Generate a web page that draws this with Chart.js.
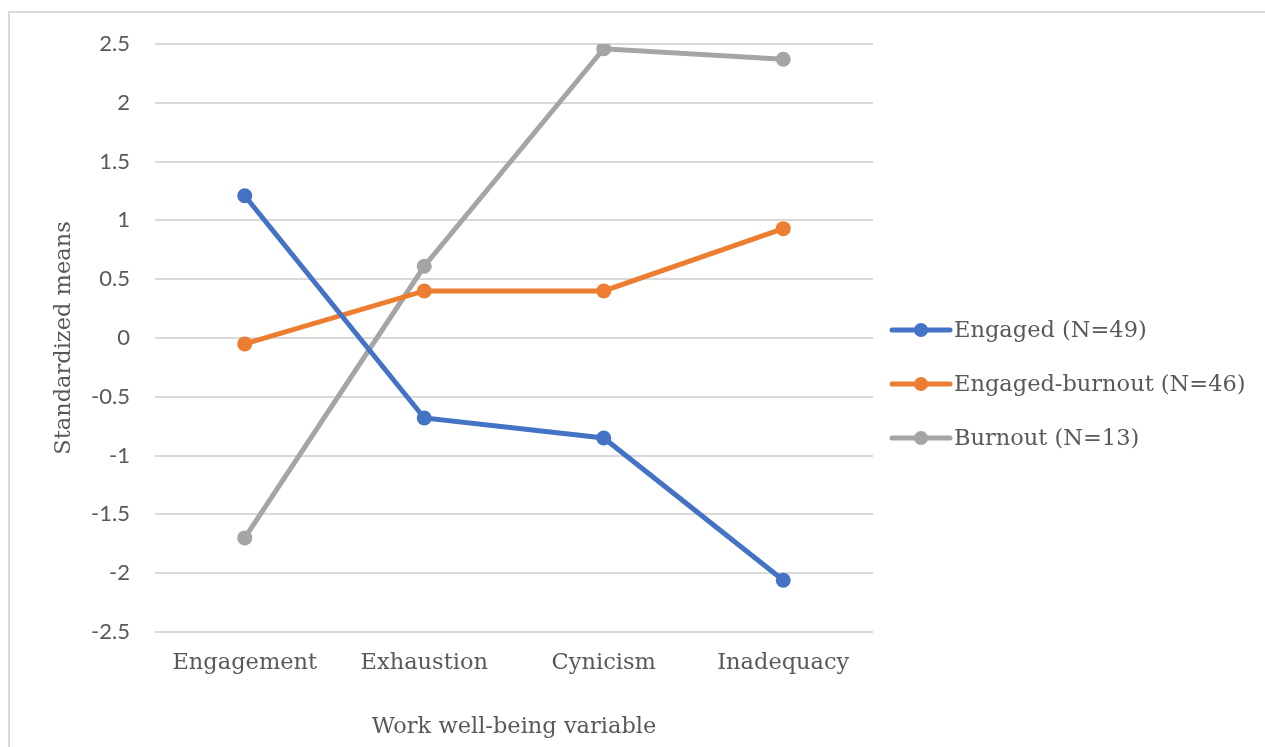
<!DOCTYPE html>
<html>
<head>
<meta charset="utf-8">
<script src="https://cdn.jsdelivr.net/npm/chart.js@4.4.0/dist/chart.umd.min.js"></script>
<style>
  html, body { margin: 0; padding: 0; background: #ffffff; }
  #wrap { width: 1265px; height: 747px; position: relative; }
</style>
</head>
<body>
<div id="wrap"><canvas id="chart" width="1265" height="747"></canvas></div>
<script>
// Work well-being profiles: standardized means per variable
const categories = ['Engagement', 'Exhaustion', 'Cynicism', 'Inadequacy'];
const engaged = [1.21, -0.68, -0.85, -2.06];
const engagedBurnout = [-0.05, 0.40, 0.40, 0.93];
const burnout = [-1.70, 0.61, 2.46, 2.37];
const seriesNames = ['Engaged (N=49)', 'Engaged-burnout (N=46)', 'Burnout (N=13)'];
const yTicks = [-2.5, -2, -1.5, -1, -0.5, 0, 0.5, 1, 1.5, 2, 2.5];

const SERIF = '"DejaVu Serif", "Liberation Serif", serif';
const SANS = 'Lato, "Open Sans", sans-serif';
const TEXT = '#595959';
const colors = ['#4472C4', '#ED7D31', '#A5A5A5'];
const SERIF_SIZE = 22.5;

// Outer frame of the chart
const framePlugin = {
  id: 'frame',
  beforeDraw(chart) {
    const ctx = chart.ctx;
    ctx.save();
    ctx.fillStyle = '#ffffff';
    ctx.fillRect(0, 0, chart.width, chart.height);
    ctx.strokeStyle = '#d9d9d9';
    ctx.lineWidth = 2;
    ctx.strokeRect(9, 12, chart.width + 20, chart.height + 20);
    ctx.restore();
  }
};

// Legend on the right: line with a marker, then the series name
const sideLegend = {
  id: 'sideLegend',
  afterDraw(chart) {
    const ctx = chart.ctx;
    const area = chart.chartArea;
    const x0 = area.right + 17;
    const yMid = (area.top + area.bottom) / 2;
    const gap = 54;
    ctx.save();
    chart.data.datasets.forEach((ds, i) => {
      const y = yMid - 8 + i * gap;
      ctx.strokeStyle = ds.borderColor;
      ctx.lineWidth = 5;
      ctx.lineCap = 'round';
      ctx.beginPath();
      ctx.moveTo(x0 + 2, y);
      ctx.lineTo(x0 + 60, y);
      ctx.stroke();
      ctx.fillStyle = ds.borderColor;
      ctx.beginPath();
      ctx.arc(x0 + 31, y, 7, 0, Math.PI * 2);
      ctx.fill();
      ctx.fillStyle = TEXT;
      ctx.font = SERIF_SIZE + 'px ' + SERIF;
      ctx.textBaseline = 'middle';
      ctx.textAlign = 'left';
      ctx.fillText(ds.label, x0 + 64, y + 1);
    });
    ctx.restore();
  }
};

const makeSet = (label, data, color) => ({
  label, data,
  borderColor: color,
  backgroundColor: color,
  borderWidth: 5,
  pointRadius: 7.5,
  pointHoverRadius: 7.5,
  pointBorderWidth: 0,
  tension: 0
});

new Chart(document.getElementById('chart'), {
  type: 'line',
  data: {
    labels: categories,
    datasets: [
      makeSet(seriesNames[0], engaged, colors[0]),
      makeSet(seriesNames[1], engagedBurnout, colors[1]),
      makeSet(seriesNames[2], burnout, colors[2])
    ]
  },
  options: {
    responsive: false,
    animation: false,
    events: [],
    layout: { padding: { left: 10, right: 392, top: 44, bottom: 0 } },
    plugins: {
      legend: { display: false },
      tooltip: { enabled: false }
    },
    scales: {
      x: {
        offset: true,
        grid: { display: false },
        border: { display: false },
        ticks: {
          color: TEXT,
          font: { family: SERIF, size: SERIF_SIZE },
          padding: 10
        },
        title: {
          display: true,
          text: 'Work well-being variable',
          color: TEXT,
          font: { family: SERIF, size: SERIF_SIZE },
          padding: { top: 30, bottom: 6 }
        },
        afterFit(scale) { scale.height = 115; }
      },
      y: {
        min: -2.5,
        max: 2.5,
        afterBuildTicks(scale) { scale.ticks = yTicks.map(v => ({ value: v })); },
        grid: { color: '#d9d9d9', lineWidth: 2, drawTicks: false },
        border: { display: false },
        ticks: {
          color: TEXT,
          font: { family: SANS, size: 22 },
          padding: 25,
          callback: v => String(v)
        },
        title: {
          display: true,
          text: 'Standardized means',
          color: TEXT,
          font: { family: SERIF, size: SERIF_SIZE },
          padding: { top: 41, bottom: 8 }
        },
        afterFit(scale) { scale.width = 145; }
      }
    }
  },
  plugins: [framePlugin, sideLegend]
});
</script>
</body>
</html>
